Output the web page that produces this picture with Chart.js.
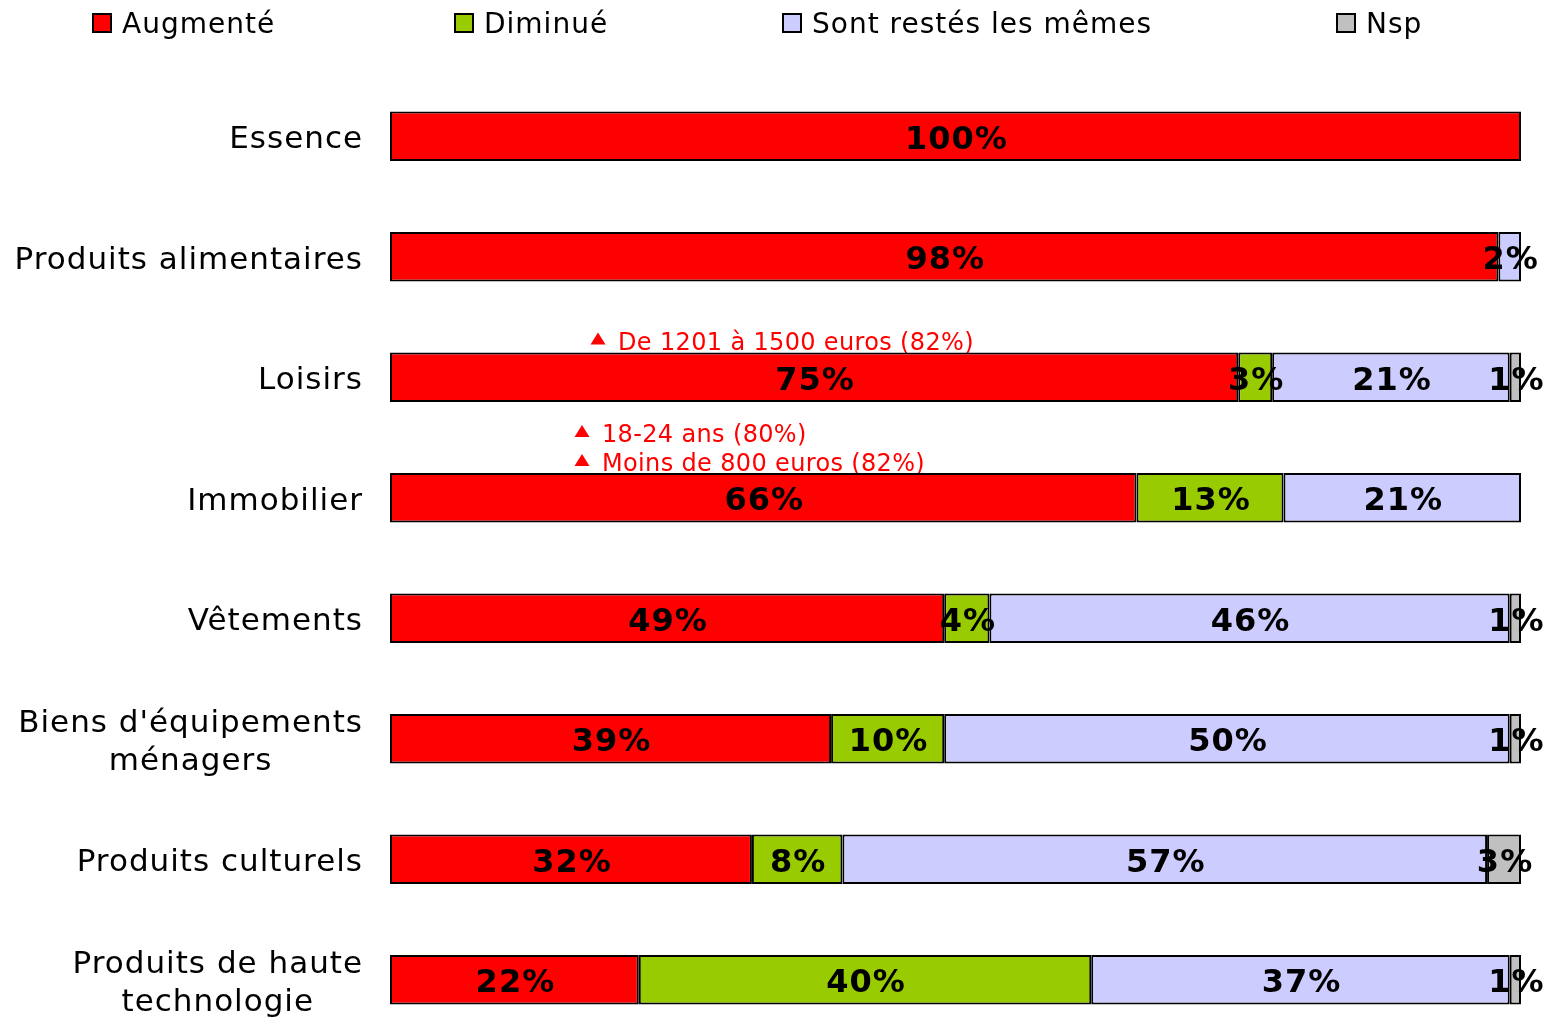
<!DOCTYPE html>
<html>
<head>
<meta charset="utf-8">
<script src="https://cdn.jsdelivr.net/npm/chart.js@4.4.0/dist/chart.umd.min.js"></script>
<style>
  body{margin:0;overflow:hidden;background:#fff;}
  canvas{display:block;}
</style>
</head>
<body>
<canvas id="myChart" width="1559" height="1050"></canvas>
<script>
// categories (top to bottom)
const categories=["Essence","Produits alimentaires","Loisirs","Immobilier","Vêtements",["Biens d'équipements","ménagers"],"Produits culturels",["Produits de haute","technologie"]];

// series values in %
const augmente=[100,98,75,66,49,39,32,22];
const diminue=[0,0,3,13,4,10,8,40];
const restes=[0,2,21,21,46,50,57,37];
const nsp=[0,0,1,0,1,1,3,1];

const seriesNames=["Augmenté","Diminué","Sont restés les mêmes","Nsp"];
const seriesColors=["#ff0000","#99cc00","#ccccff","#c0c0c0"];

// red notes above some bars
const noteCats=[2,3];
const noteTexts=[["De 1201 à 1500 euros (82%)"],["18-24 ans (80%)","Moins de 800 euros (82%)"]];

// layout bits
const legendX=[93,455,783,1337];
const noteX=[598,582];
const FONT='"DejaVu Sans", Verdana, sans-serif';

function triangle(ctx,cx,cy){
    ctx.beginPath();
    ctx.moveTo(cx,cy-6);
    ctx.lineTo(cx+7.5,cy+6);
    ctx.lineTo(cx-7.5,cy+6);
    ctx.closePath();
    ctx.fill();
}

const deco={
    id:"deco",
    beforeDatasetsDraw(chart){
        const ctx=chart.ctx;
        const meta=chart.getDatasetMeta(0);
        ctx.save();
        ctx.fillStyle="#ff0000";
        ctx.font="24px "+FONT;
        ctx.letterSpacing="0.35px";
        ctx.textBaseline="alphabetic";
        ctx.textAlign="left";
        noteCats.forEach((ci,n)=>{
            const el=meta.data[ci];
            const top=el.y-el.height/2;
            const lines=noteTexts[n];
            lines.forEach((t,k)=>{
                const base=top-3-(lines.length-1-k)*28+(k==lines.length-1&&lines.length>1?1:0);
                triangle(ctx,noteX[n],base-11);
                ctx.fillText(t,noteX[n]+20,base);
            });
        });
        ctx.restore();
    },
    afterDatasetsDraw(chart){
        const ctx=chart.ctx;
        ctx.save();
        ctx.fillStyle="#000";
        ctx.font="bold 32px "+FONT;
        ctx.letterSpacing="1px";
        ctx.textAlign="center";
        ctx.textBaseline="middle";
        chart.data.datasets.forEach((ds,di)=>{
            const meta=chart.getDatasetMeta(di);
            meta.data.forEach((el,i)=>{
                const v=ds.data[i];
                if(!v) return;
                const p=el.getCenterPoint();
                ctx.fillText(v+"%",p.x+1,p.y+4);
            });
        });
        ctx.restore();
    },
    afterDraw(chart){
        const ctx=chart.ctx;
        const yScale=chart.scales.y;
        ctx.save();
        // category labels, block right aligned, lines centred
        ctx.fillStyle="#000";
        ctx.font="31px "+FONT;
        ctx.letterSpacing="1px";
        ctx.textBaseline="middle";
        ctx.textAlign="center";
        categories.forEach((lab,i)=>{
            const lines=Array.isArray(lab)?lab:[lab];
            const w=Math.max(...lines.map(l=>ctx.measureText(l).width));
            const cx=363-w/2;
            const y=yScale.getPixelForValue(i)+4;
            lines.forEach((l,k)=>{
                ctx.fillText(l,cx,y+(k-(lines.length-1)/2)*38);
            });
        });
        // legend
        ctx.font="28px "+FONT;
        ctx.textAlign="left";
        seriesNames.forEach((name,i)=>{
            const x=legendX[i];
            ctx.fillStyle=seriesColors[i];
            ctx.fillRect(x,14,18,18);
            ctx.strokeStyle="#000";
            ctx.lineWidth=2;
            ctx.strokeRect(x,14,18,18);
            ctx.fillStyle="#000";
            ctx.fillText(name,x+29,26);
        });
        ctx.restore();
    }
};

const allData=[augmente,diminue,restes,nsp];

new Chart("myChart",{
    type:"bar",
    data:{
        labels:categories,
        datasets:allData.map((d,i)=>({
            label:seriesNames[i],
            data:d,
            backgroundColor:seriesColors[i],
            borderColor:"#000",
            borderWidth:2,
            borderSkipped:false,
            barPercentage:0.41,
            categoryPercentage:1
        }))
    },
    options:{
        indexAxis:"y",
        responsive:false,
        animation:false,
        devicePixelRatio:1,
        layout:{padding:{left:0,top:76,right:38,bottom:10}},
        plugins:{
            legend:{display:false},
            tooltip:{enabled:false}
        },
        scales:{
            x:{
                stacked:true,
                min:0,
                max:100,
                display:false
            },
            y:{
                stacked:true,
                grid:{display:false,drawTicks:false},
                border:{display:false},
                ticks:{display:false},
                afterFit:(s)=>{s.width=390;}
            }
        }
    },
    plugins:[deco]
});
</script>
</body>
</html>
